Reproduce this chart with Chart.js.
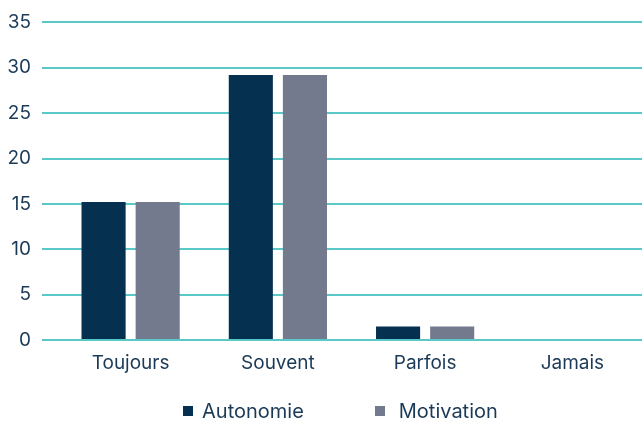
<!DOCTYPE html>
<html>
<head>
<meta charset="utf-8">
<script src="https://cdn.jsdelivr.net/npm/chart.js@4"></script>
<style>
    html, body { margin: 0; padding: 0; background: #fff; overflow: hidden; }
    #wrap { position: relative; width: 642px; height: 421px; overflow: hidden; }
    /* plot runs a little past the right edge, as in the original */
    #inner { position: absolute; top: 0; left: 0; width: 646px; height: 421px; }
    #legend {
        position: absolute; top: 399px; left: 183px;
        display: flex; gap: 71px;
        font-family: Inter, sans-serif; font-size: 20px; color: #1b3a57;
    }
    #legend .item { display: flex; align-items: center; }
    #legend .box { width: 10px; height: 10px; margin-right: 9px; }
    #legend .item + .item .box { margin-right: 14px; }
</style>
</head>
<body>
<div id="wrap">
    <div id="inner"><canvas id="barChart"></canvas></div>
    <div id="legend"></div>
</div>
<script>
// Data
const categories = ['Toujours', 'Souvent', 'Parfois', 'Jamais'];
const autonomie = [15.2, 29.2, 1.5, 0];
const motivation = [15.2, 29.2, 1.5, 0];
const seriesNames = ['Autonomie', 'Motivation'];
const seriesColors = ['#06304f', '#737a8e'];

const textColor = '#1b3a57';
const gridColor = '#5bc8c8';
const fontFamily = 'Inter';

document.addEventListener('DOMContentLoaded', function () {
    initChart();
});

function initChart() {
    const ctx = document.getElementById('barChart').getContext('2d');

    const chart = new Chart(ctx, {
        type: 'bar',
        data: {
            labels: categories,
            datasets: [{
                label: seriesNames[0],
                data: autonomie,
                backgroundColor: seriesColors[0]
            }, {
                label: seriesNames[1],
                data: motivation,
                backgroundColor: seriesColors[1]
            }]
        },
        options: {
            responsive: true,
            maintainAspectRatio: false,
            animation: false,
            categoryPercentage: 0.735,
            barPercentage: 0.815,
            layout: {
                padding: { top: 21, bottom: 41, left: 0, right: 0 }
            },
            plugins: {
                legend: { display: false },
                tooltip: { enabled: false }
            },
            scales: {
                y: {
                    min: 0,
                    max: 35,
                    afterFit: function (scale) { scale.width = 57; },
                    border: { display: false },
                    grid: {
                        color: gridColor,
                        lineWidth: 2,
                        tickLength: 15,
                        tickColor: gridColor
                    },
                    ticks: {
                        stepSize: 5,
                        padding: 11,
                        color: textColor,
                        font: { family: fontFamily, size: 19 }
                    }
                },
                x: {
                    afterFit: function (scale) { scale.height = 40; },
                    border: { display: false },
                    grid: { display: false, drawTicks: false },
                    ticks: {
                        padding: 12,
                        color: textColor,
                        font: { family: fontFamily, size: 19 }
                    }
                }
            }
        }
    });

    // HTML legend built from the datasets
    const legend = document.getElementById('legend');
    chart.data.datasets.forEach(ds => {
        const item = document.createElement('div');
        item.className = 'item';
        item.innerHTML = `<span class="box" style="background:${ds.backgroundColor}"></span><span>${ds.label}</span>`;
        legend.appendChild(item);
    });
}
</script>
</body>
</html>
